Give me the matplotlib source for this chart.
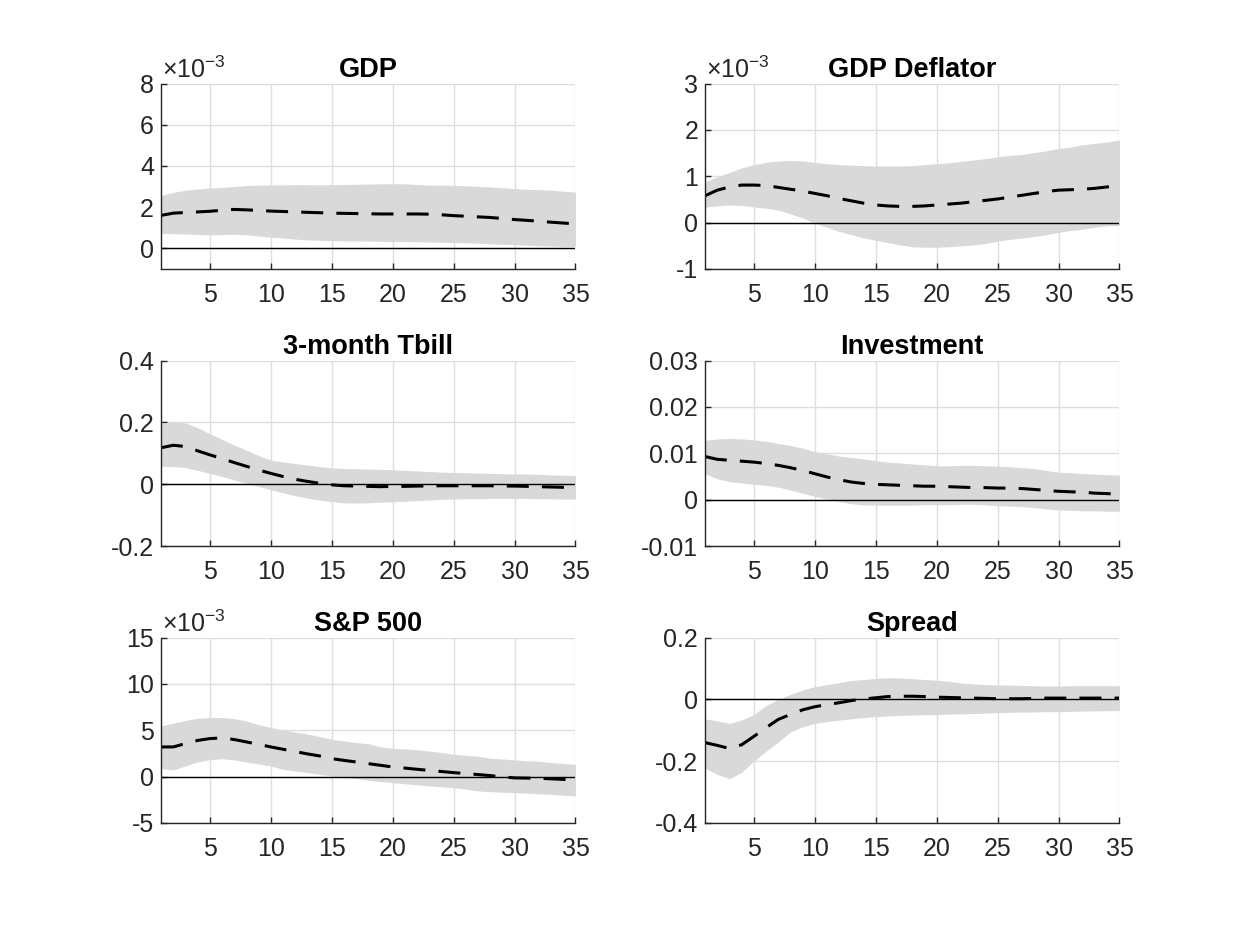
import numpy as np
import matplotlib
matplotlib.use("Agg")
import matplotlib.pyplot as plt
from matplotlib.ticker import FuncFormatter

plt.rcParams['font.family'] = ['Liberation Sans', 'DejaVu Sans']
plt.rcParams['mathtext.fontset'] = 'custom'
plt.rcParams['mathtext.rm'] = 'Liberation Sans'
plt.rcParams['axes.unicode_minus'] = False

horizon = np.arange(1, 36)

# GDP (x 1e-3)
gdp_med = np.array([1.60, 1.71, 1.74, 1.77, 1.80, 1.85, 1.89, 1.87, 1.84, 1.81, 1.79, 1.77, 1.75, 1.73, 1.71,
                    1.70, 1.69, 1.68, 1.67, 1.67, 1.67, 1.67, 1.66, 1.63, 1.59, 1.56, 1.53, 1.50, 1.45, 1.40,
                    1.36, 1.32, 1.27, 1.23, 1.19]) * 1e-3
gdp_up = np.array([2.57, 2.72, 2.82, 2.88, 2.93, 2.96, 3.00, 3.05, 3.07, 3.08, 3.08, 3.09, 3.09, 3.08, 3.09,
                   3.10, 3.11, 3.12, 3.13, 3.14, 3.13, 3.10, 3.07, 3.07, 3.06, 3.04, 3.01, 2.98, 2.94, 2.90,
                   2.87, 2.85, 2.82, 2.78, 2.73]) * 1e-3
gdp_lo = np.array([0.73, 0.71, 0.70, 0.67, 0.66, 0.67, 0.68, 0.66, 0.60, 0.55, 0.50, 0.45, 0.41, 0.39, 0.37,
                   0.36, 0.36, 0.35, 0.34, 0.33, 0.33, 0.32, 0.31, 0.30, 0.28, 0.27, 0.25, 0.22, 0.20, 0.18,
                   0.15, 0.13, 0.11, 0.10, 0.10]) * 1e-3

# GDP Deflator (x 1e-3)
defl_med = np.array([0.58, 0.70, 0.77, 0.81, 0.81, 0.80, 0.76, 0.72, 0.68, 0.63, 0.58, 0.52, 0.47, 0.42, 0.38,
                     0.36, 0.35, 0.35, 0.36, 0.38, 0.40, 0.42, 0.45, 0.48, 0.51, 0.55, 0.59, 0.63, 0.67, 0.70,
                     0.71, 0.72, 0.74, 0.77, 0.80]) * 1e-3
defl_up = np.array([0.88, 0.99, 1.08, 1.18, 1.25, 1.30, 1.33, 1.34, 1.33, 1.30, 1.27, 1.25, 1.24, 1.23, 1.22,
                    1.22, 1.22, 1.23, 1.25, 1.27, 1.29, 1.32, 1.35, 1.38, 1.42, 1.45, 1.47, 1.51, 1.55, 1.60,
                    1.63, 1.68, 1.71, 1.74, 1.78]) * 1e-3
defl_lo = np.array([0.34, 0.36, 0.38, 0.37, 0.34, 0.31, 0.27, 0.19, 0.10, -0.01, -0.10, -0.19, -0.26, -0.33, -0.38,
                    -0.43, -0.48, -0.52, -0.53, -0.53, -0.52, -0.50, -0.48, -0.45, -0.40, -0.36, -0.33, -0.30,
                    -0.26, -0.21, -0.17, -0.14, -0.10, -0.07, -0.06]) * 1e-3

# 3-month Tbill
tb_med = [0.118, 0.126, 0.122, 0.108, 0.095, 0.083, 0.070, 0.058, 0.046, 0.035, 0.025, 0.016, 0.009, 0.003, -0.002,
          -0.005, -0.006, -0.007, -0.008, -0.007, -0.007, -0.006, -0.006, -0.005, -0.005, -0.005, -0.005, -0.005,
          -0.006, -0.006, -0.007, -0.008, -0.009, -0.010, -0.011]
tb_up = [0.195, 0.202, 0.198, 0.183, 0.163, 0.145, 0.127, 0.110, 0.093, 0.078, 0.072, 0.067, 0.062, 0.057, 0.053,
         0.051, 0.050, 0.049, 0.048, 0.047, 0.045, 0.043, 0.041, 0.039, 0.038, 0.037, 0.036, 0.035, 0.034, 0.033,
         0.033, 0.032, 0.030, 0.029, 0.028]
tb_lo = [0.058, 0.057, 0.054, 0.045, 0.035, 0.025, 0.014, 0.003, -0.007, -0.018, -0.028, -0.037, -0.045, -0.051,
         -0.056, -0.060, -0.061, -0.060, -0.058, -0.057, -0.055, -0.053, -0.051, -0.049, -0.048, -0.047, -0.047,
         -0.046, -0.046, -0.046, -0.046, -0.047, -0.047, -0.048, -0.048]

# Investment
inv_med = [0.0093, 0.0087, 0.0085, 0.0083, 0.0081, 0.0078, 0.0074, 0.0069, 0.0063, 0.0056, 0.0049, 0.0043, 0.0038,
           0.0035, 0.0033, 0.0032, 0.0031, 0.0030, 0.0029, 0.0029, 0.0028, 0.0027, 0.0026, 0.0026, 0.0025, 0.0025,
           0.0024, 0.0022, 0.0020, 0.0018, 0.0017, 0.0016, 0.0014, 0.0013, 0.0012]
inv_up = [0.0128, 0.0131, 0.0132, 0.0131, 0.0129, 0.0126, 0.0121, 0.0117, 0.0111, 0.0104, 0.0099, 0.0094, 0.0091,
          0.0088, 0.0084, 0.0081, 0.0079, 0.0077, 0.0075, 0.0073, 0.0073, 0.0074, 0.0074, 0.0073, 0.0072, 0.0071,
          0.0069, 0.0067, 0.0063, 0.0059, 0.0058, 0.0056, 0.0055, 0.0054, 0.0053]
inv_lo = [0.0056, 0.0045, 0.0039, 0.0036, 0.0033, 0.0031, 0.0027, 0.0021, 0.0014, 0.0007, 0.0001, -0.0004, -0.0009,
          -0.0011, -0.0012, -0.0012, -0.0012, -0.0012, -0.0011, -0.0011, -0.0011, -0.0010, -0.0010, -0.0011,
          -0.0013, -0.0014, -0.0015, -0.0017, -0.0020, -0.0022, -0.0023, -0.0024, -0.0024, -0.0025, -0.0025]

# S&P 500 (x 1e-3)
sp_med = np.array([3.20, 3.20, 3.56, 3.90, 4.10, 4.17, 4.00, 3.74, 3.48, 3.20, 2.95, 2.70, 2.45, 2.23, 1.94,
                   1.75, 1.58, 1.40, 1.22, 1.04, 0.92, 0.79, 0.67, 0.55, 0.43, 0.33, 0.22, 0.11, -0.02, -0.14,
                   -0.16, -0.18, -0.24, -0.30, -0.36]) * 1e-3
sp_up = np.array([5.47, 5.76, 6.05, 6.30, 6.37, 6.37, 6.26, 6.00, 5.60, 5.30, 5.04, 4.80, 4.60, 4.32, 4.03,
                  3.85, 3.67, 3.55, 3.20, 3.06, 3.00, 2.90, 2.75, 2.60, 2.41, 2.30, 2.20, 1.98, 1.90, 1.80,
                  1.72, 1.65, 1.51, 1.42, 1.33]) * 1e-3
sp_lo = np.array([0.86, 0.72, 1.15, 1.58, 1.83, 1.94, 1.80, 1.58, 1.36, 1.15, 0.79, 0.60, 0.45, 0.25, 0.07,
                  -0.08, -0.20, -0.40, -0.53, -0.65, -0.77, -0.90, -1.00, -1.10, -1.19, -1.35, -1.55, -1.62,
                  -1.68, -1.73, -1.78, -1.85, -1.90, -2.00, -2.09]) * 1e-3

# Spread
spr_med = [-0.140, -0.149, -0.159, -0.147, -0.120, -0.092, -0.065, -0.049, -0.034, -0.024, -0.017, -0.011, -0.004,
           0.001, 0.005, 0.009, 0.010, 0.010, 0.009, 0.007, 0.006, 0.005, 0.004, 0.003, 0.002, 0.002, 0.002, 0.003,
           0.004, 0.004, 0.004, 0.004, 0.004, 0.004, 0.004]
spr_up = [-0.063, -0.070, -0.078, -0.067, -0.049, -0.020, 0.000, 0.016, 0.030, 0.041, 0.048, 0.054, 0.061, 0.064,
          0.068, 0.070, 0.069, 0.067, 0.064, 0.062, 0.058, 0.053, 0.050, 0.048, 0.047, 0.046, 0.045, 0.044, 0.043,
          0.043, 0.044, 0.044, 0.044, 0.044, 0.044]
spr_lo = [-0.222, -0.243, -0.257, -0.236, -0.200, -0.168, -0.138, -0.106, -0.089, -0.078, -0.072, -0.067, -0.063,
          -0.059, -0.056, -0.054, -0.052, -0.051, -0.050, -0.049, -0.048, -0.047, -0.046, -0.045, -0.043, -0.042,
          -0.041, -0.041, -0.040, -0.040, -0.039, -0.038, -0.037, -0.037, -0.036]

titles = ["GDP", "GDP Deflator", "3-month Tbill", "Investment", "S&P 500", "Spread"]
medians = [gdp_med, defl_med, tb_med, inv_med, sp_med, spr_med]
uppers = [gdp_up, defl_up, tb_up, inv_up, sp_up, spr_up]
lowers = [gdp_lo, defl_lo, tb_lo, inv_lo, sp_lo, spr_lo]
yticks = [[0, 2e-3, 4e-3, 6e-3, 8e-3],
          [-1e-3, 0, 1e-3, 2e-3, 3e-3],
          [-0.2, 0, 0.2, 0.4],
          [-0.01, 0, 0.01, 0.02, 0.03],
          [-5e-3, 0, 5e-3, 10e-3, 15e-3],
          [-0.4, -0.2, 0, 0.2]]
ylims = [(-1e-3, 8e-3), (-1e-3, 3e-3), (-0.2, 0.4), (-0.01, 0.03), (-5e-3, 15e-3), (-0.4, 0.2)]
scaled = [True, True, False, False, True, False]

fig = plt.figure(figsize=(12.37, 9.25), dpi=100)
lefts = [0.1302, 0.5700]
bottoms = [0.7092, 0.4097, 0.1103]
w, h = 0.3350, 0.2005

axis_col = '#262626'
for i in range(6):
    ax = fig.add_axes([lefts[i % 2], bottoms[i // 2], w, h])
    ax.set_axisbelow(True)
    ax.fill_between(horizon, lowers[i], uppers[i], color='#d9d9d9', linewidth=0)
    ax.axhline(0, color='black', linewidth=1.0)
    ax.plot(horizon, medians[i], color='black', linewidth=2.2, dashes=(7.2, 4.3))
    ax.set_xlim(1, 35)
    ax.set_ylim(*ylims[i])
    ax.set_xticks([5, 10, 15, 20, 25, 30, 35])
    ax.set_yticks(yticks[i])
    if scaled[i]:
        ax.yaxis.set_major_formatter(FuncFormatter(lambda v, pos: '%g' % round(v * 1e3, 6)))
        ax.text(0.003, 1.005, r'$\times 10^{-3}$', transform=ax.transAxes, fontsize=18,
                color=axis_col, ha='left', va='bottom')
    else:
        ax.yaxis.set_major_formatter(FuncFormatter(lambda v, pos: '%g' % round(v, 6)))
    ax.grid(True, color='#dedede', linewidth=1.0)
    for s in ['top', 'right']:
        ax.spines[s].set_visible(False)
    for s in ['left', 'bottom']:
        ax.spines[s].set_color(axis_col)
        ax.spines[s].set_linewidth(1.0)
    ax.tick_params(axis='both', direction='in', length=4, width=1.0, colors=axis_col, labelsize=18)
    ax.tick_params(axis='x', pad=10)
    ax.tick_params(axis='y', pad=5)
    ax.set_title(titles[i], fontsize=19.5, fontweight='bold', pad=5)

fig.savefig('out.png', dpi=100)
